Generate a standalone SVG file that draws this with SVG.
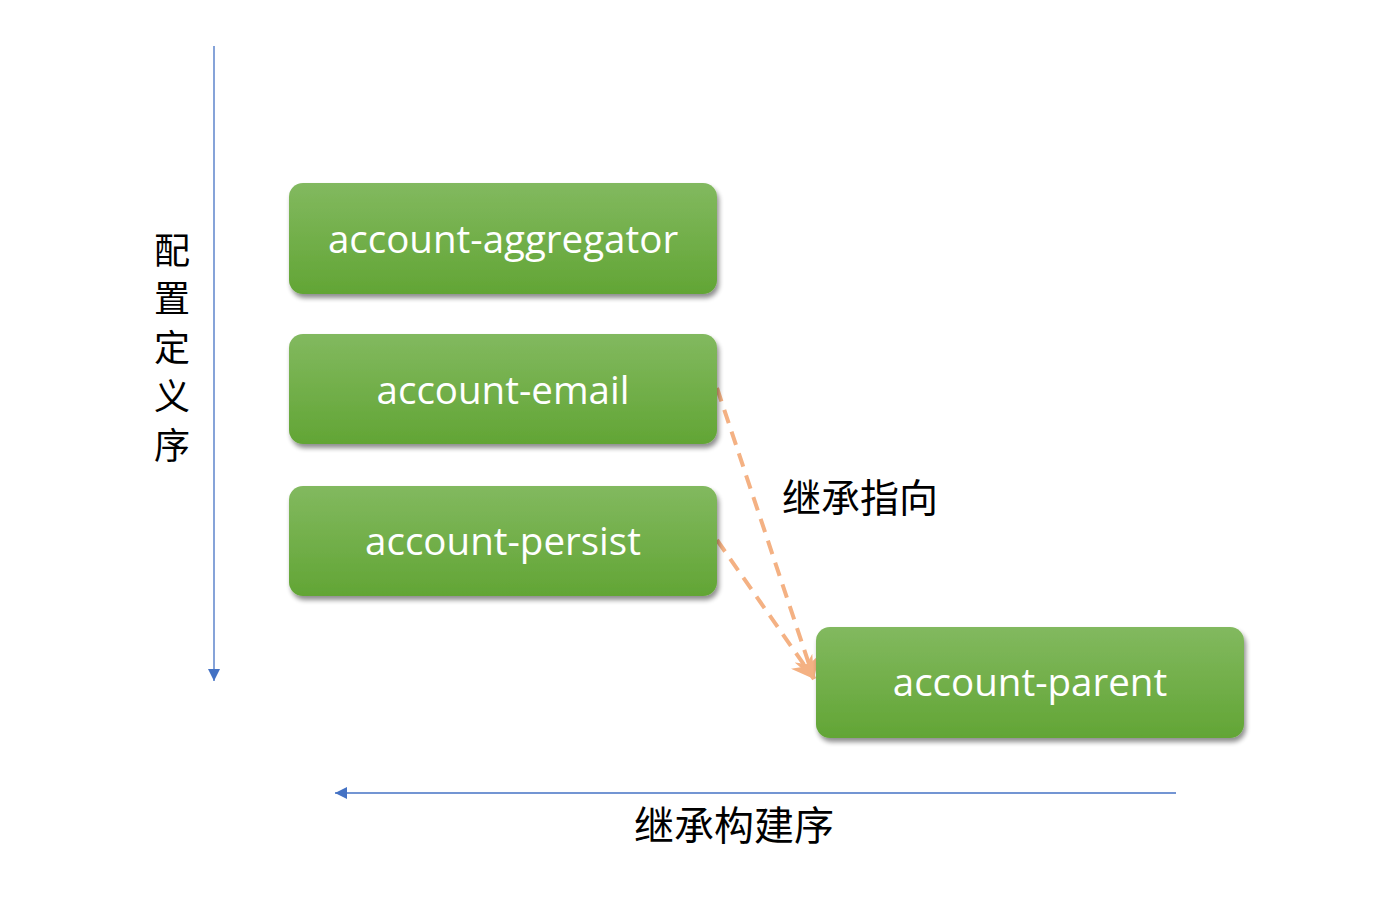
<svg xmlns="http://www.w3.org/2000/svg" width="1386" height="898" viewBox="0 0 1386 898">
<defs>
<linearGradient id="g" x1="0" y1="0" x2="0" y2="1">
<stop offset="0" stop-color="#82b95f"/>
<stop offset="1" stop-color="#62a535"/>
</linearGradient>
<filter id="sh" x="-10%" y="-20%" width="120%" height="150%">
<feGaussianBlur in="SourceAlpha" stdDeviation="2.5"/>
<feOffset dx="2" dy="4" result="b"/>
<feComponentTransfer><feFuncA type="linear" slope="0.45"/></feComponentTransfer>
<feMerge><feMergeNode/><feMergeNode in="SourceGraphic"/></feMerge>
</filter>
<marker id="blue" markerWidth="12" markerHeight="12" refX="10" refY="5" orient="auto" markerUnits="userSpaceOnUse" viewBox="0 0 10 10">
<path d="M0,0 L10,5 L0,10 z" fill="#4472c4"/>
</marker>
<marker id="org" markerWidth="26" markerHeight="26" refX="10" refY="6" orient="auto" markerUnits="userSpaceOnUse" viewBox="0 0 12 12">
<path d="M0,0 L10,6 L0,12 L3,6 z" fill="#f4b183"/>
</marker>
</defs>
<style>
.box{fill:url(#g);filter:url(#sh)}
.lbl{fill:#fff;font-family:"Open Sans","Liberation Sans",sans-serif;font-size:38.5px;text-anchor:middle;dominant-baseline:central}
.cjk{fill:#000;font-family:"Noto Sans CJK SC",sans-serif}
.ax{stroke:#4472c4;stroke-width:1.3;fill:none}
.dash{stroke:#f4b183;stroke-width:4;stroke-dasharray:14 9;fill:none}
</style>
<rect width="1386" height="898" fill="#fff"/>
<g id="connectors">
<line class="ax" x1="214" y1="46" x2="214" y2="681" marker-end="url(#blue)"/>
<line class="ax" x1="1176" y1="793" x2="335" y2="793" marker-end="url(#blue)"/>
<line class="dash" x1="717" y1="388" x2="814" y2="679" marker-end="url(#org)"/>
<line class="dash" x1="717" y1="540" x2="814" y2="679" marker-end="url(#org)"/>
</g>
<g id="n-aggregator">
<rect class="box" x="289" y="183" width="428" height="111" rx="14"/>
<text class="lbl" x="503" y="238">account-aggregator</text>
</g>
<g id="n-email">
<rect class="box" x="289" y="334" width="428" height="110" rx="14"/>
<text class="lbl" x="503" y="389">account-email</text>
</g>
<g id="n-persist">
<rect class="box" x="289" y="486" width="428" height="110" rx="14"/>
<text class="lbl" x="503" y="540">account-persist</text>
</g>
<g id="n-parent">
<rect class="box" x="816" y="627" width="428" height="111" rx="14"/>
<text class="lbl" x="1030" y="681">account-parent</text>
</g>
<g id="labels">
<text class="cjk" font-size="36" text-anchor="middle" x="172" y="264">配</text>
<text class="cjk" font-size="36" text-anchor="middle" x="172" y="312">置</text>
<text class="cjk" font-size="36" text-anchor="middle" x="172" y="361">定</text>
<text class="cjk" font-size="36" text-anchor="middle" x="172" y="410">义</text>
<text class="cjk" font-size="36" text-anchor="middle" x="172" y="459">序</text>
<text class="cjk" font-size="39" x="782" y="512">继承指向</text>
<text class="cjk" font-size="40" x="634" y="840">继承构建序</text>
</g>
</svg>
